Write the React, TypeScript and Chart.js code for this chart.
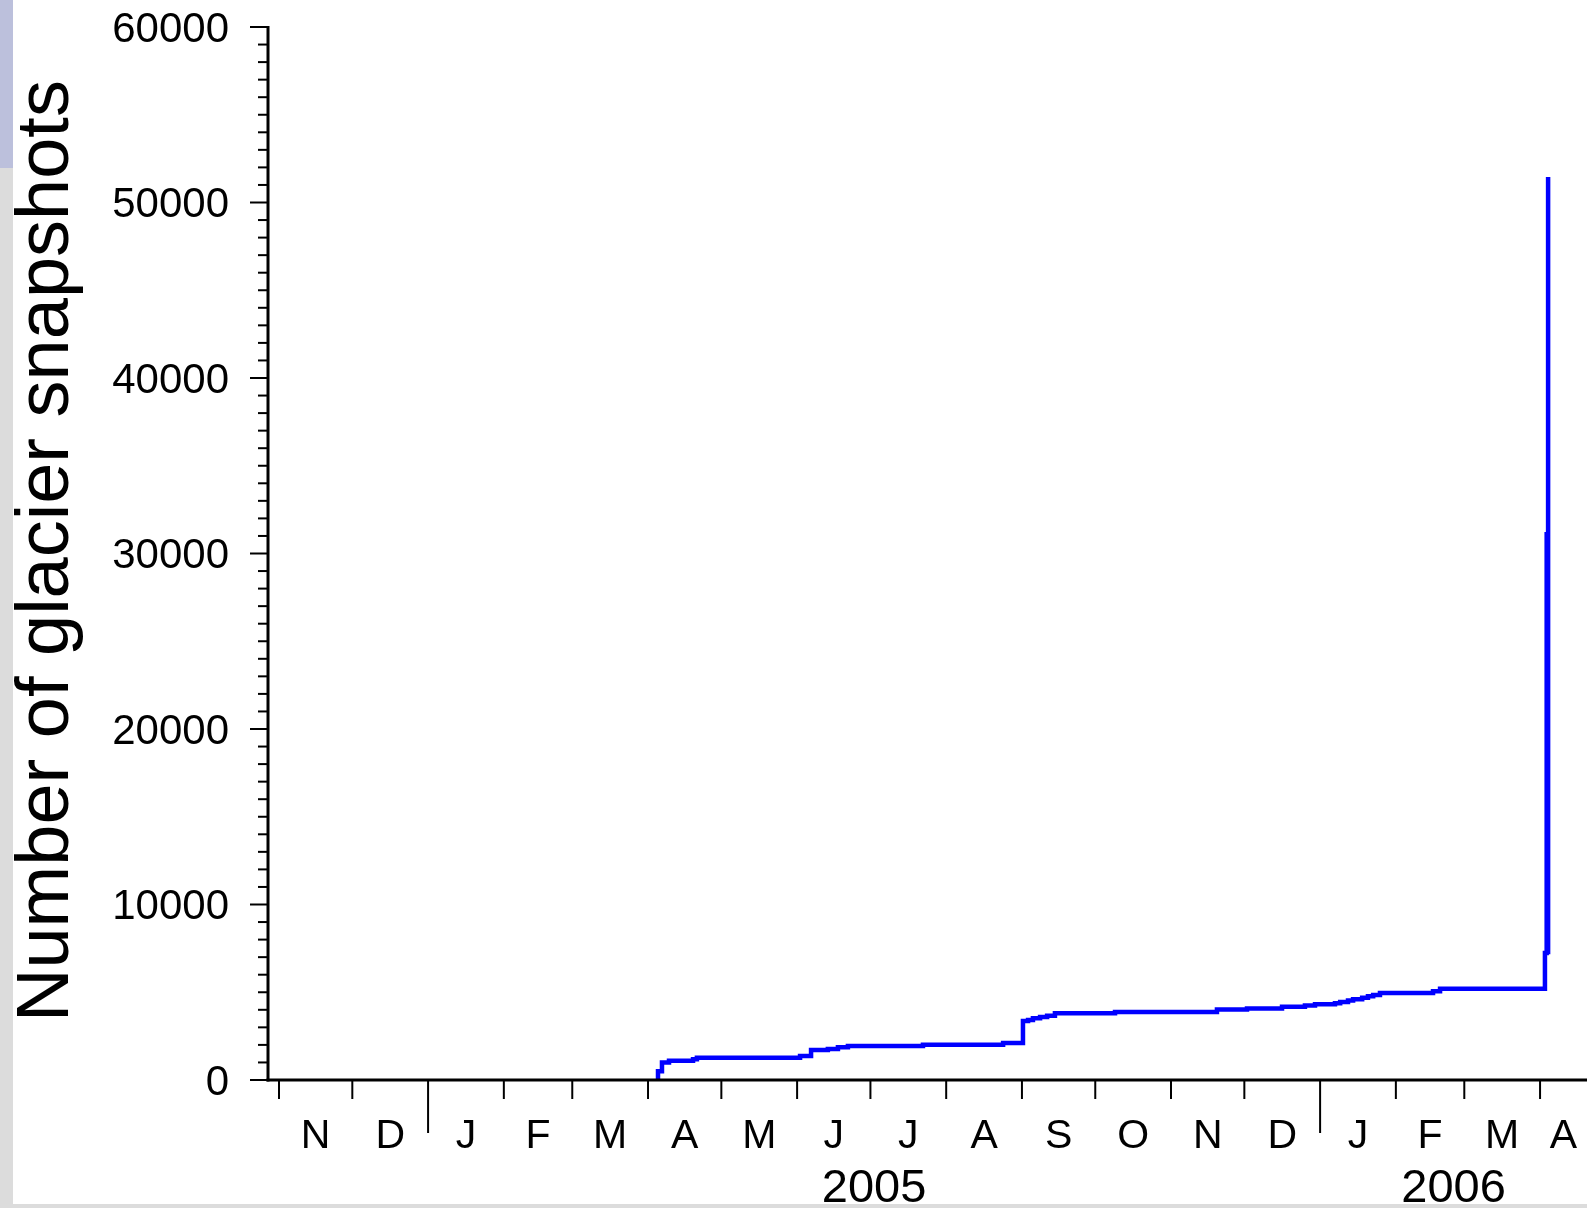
import React, { useEffect, useRef } from "react";
import { Chart, registerables } from "chart.js";

Chart.register(...registerables);

// ---- data ----
const snapshotDates: string[] = [
  "2005-04-04T07:00", "2005-04-05T02:00", "2005-04-06T17:00", "2005-04-09T14:00",
  "2005-04-19T10:00", "2005-04-21T00:00", "2005-06-02T05:00", "2005-06-06T17:00",
  "2005-06-13T14:00", "2005-06-17T17:00", "2005-06-21T19:00", "2005-07-22T12:00",
  "2005-08-24T07:00", "2005-09-01T10:00", "2005-09-03T12:00", "2005-09-05T12:00",
  "2005-09-08T10:00", "2005-09-11T07:00", "2005-09-14T12:00", "2005-10-09T02:00",
  "2005-10-26T07:00", "2005-11-19T19:00", "2005-12-02T02:00", "2005-12-16T10:00",
  "2005-12-25T19:00", "2005-12-29T22:00", "2006-01-07T02:00", "2006-01-09T05:00",
  "2006-01-12T10:00", "2006-01-14T12:00", "2006-01-18T05:00", "2006-01-20T14:00",
  "2006-01-22T17:00", "2006-01-25T12:00", "2006-02-16T05:00", "2006-02-19T02:00",
  "2006-04-03T00:00", "2006-04-03T17:00", "2006-04-04T02:00", "2006-04-04T07:00",
];
const snapshotCounts: number[] = [
  0, 500, 1000, 1100,
  1180, 1270, 1370, 1710,
  1770, 1860, 1940, 2010,
  2110, 3360, 3420, 3520,
  3590, 3665, 3800, 3870,
  3880, 4010, 4080, 4180,
  4240, 4320, 4380, 4440,
  4530, 4600, 4680, 4770,
  4840, 4960, 5050, 5200,
  7240, 31100, 7300, 51450,
];

const axisStart = "2004-10-27T12:00";
const axisEnd = "2006-04-20T05:00";

const monthStarts: string[] = [
  "2004-11-01", "2004-12-01", "2005-01-01", "2005-02-01", "2005-03-01", "2005-04-01",
  "2005-05-01", "2005-06-01", "2005-07-01", "2005-08-01", "2005-09-01", "2005-10-01",
  "2005-11-01", "2005-12-01", "2006-01-01", "2006-02-01", "2006-03-01", "2006-04-01",
  "2006-05-01",
];
const monthLetters: string[] = [
  "N", "D", "J", "F", "M", "A", "M", "J", "J", "A", "S", "O", "N", "D", "J", "F", "M", "A",
];
const yearStarts: string[] = ["2005-01-01", "2006-01-01", "2007-01-01"];
const yearLabels: string[] = ["2005", "2006"];

const yMin = 0;
const yMax = 60000;
const yMajorStep = 10000;
const yMinorStep = 1000;
const yTitle = "Number of glacier snapshots";

// ---- helpers ----
const EPOCH = Date.UTC(2004, 10, 1);
function toDay(s: string): number {
  const t = Date.parse(s.length === 10 ? s + "T00:00:00Z" : s + ":00Z");
  return (t - EPOCH) / 86400000;
}

const FONT = '"Liberation Sans", Arial, Helvetica, sans-serif';

export default function App() {
  const ref = useRef<HTMLCanvasElement | null>(null);

  useEffect(() => {
    const canvas = ref.current;
    if (!canvas) return;

    const points = snapshotDates.map((d, i) => ({ x: toDay(d), y: snapshotCounts[i] }));
    const xMin = toDay(axisStart);
    const xMax = toDay(axisEnd);

    const decorPlugin = {
      id: "decor",
      beforeDraw(chart: any) {
        const { ctx, width, height } = chart;
        ctx.save();
        ctx.fillStyle = "#ffffff";
        ctx.fillRect(0, 0, width, height);
        ctx.fillStyle = "#bcc0dc";
        ctx.fillRect(0, 0, 13, 168);
        ctx.fillStyle = "#dcdcdc";
        ctx.fillRect(0, 168, 13, height - 168);
        ctx.fillRect(0, 1204, width, height - 1204);
        ctx.restore();
      },
      afterDraw(chart: any) {
        const { ctx } = chart;
        const xs = chart.scales.x;
        const ys = chart.scales.y;
        const area = chart.chartArea;
        const axX = area.left;
        const axY = area.bottom;
        ctx.save();
        ctx.strokeStyle = "#000000";
        ctx.fillStyle = "#000000";

        // y minor/major ticks
        ctx.lineWidth = 2;
        for (let v = yMin; v <= yMax; v += yMinorStep) {
          const y = ys.getPixelForValue(v);
          const len = v % yMajorStep === 0 ? 18 : 10;
          ctx.beginPath();
          ctx.moveTo(axX - len, y);
          ctx.lineTo(axX, y);
          ctx.stroke();
        }

        // x month ticks
        const yearDays = yearStarts.map(toDay);
        monthStarts.forEach((m) => {
          const d = toDay(m);
          if (d < xMin || d > xMax) return;
          const x = xs.getPixelForValue(d);
          const isYear = yearDays.some((yd) => Math.abs(yd - d) < 0.01);
          ctx.beginPath();
          ctx.moveTo(x, axY);
          ctx.lineTo(x, axY + (isYear ? 53 : 19));
          ctx.stroke();
        });

        // axis lines
        ctx.lineWidth = 3;
        ctx.beginPath();
        ctx.moveTo(axX, ys.getPixelForValue(yMax) - 1);
        ctx.lineTo(axX, axY + 1.5);
        ctx.stroke();
        ctx.beginPath();
        ctx.moveTo(axX - 1.5, axY);
        ctx.lineTo(area.right, axY);
        ctx.stroke();

        // month letters
        ctx.font = `41px ${FONT}`;
        ctx.textAlign = "center";
        ctx.textBaseline = "alphabetic";
        monthLetters.forEach((lab, i) => {
          const a = Math.max(toDay(monthStarts[i]), xMin);
          const b = Math.min(toDay(monthStarts[i + 1]), xMax);
          const x = (xs.getPixelForValue(a) + xs.getPixelForValue(b)) / 2;
          ctx.fillText(lab, x, 1148);
        });

        // year labels
        ctx.font = `47px ${FONT}`;
        yearLabels.forEach((lab, i) => {
          const a = Math.max(toDay(yearStarts[i]), xMin);
          const b = Math.min(toDay(yearStarts[i + 1]), xMax);
          const x = (xs.getPixelForValue(a) + xs.getPixelForValue(b)) / 2;
          ctx.fillText(lab, x, 1202);
        });

        // y title
        ctx.font = `74px ${FONT}`;
        ctx.textAlign = "left";
        ctx.translate(68, 1022);
        ctx.rotate(-Math.PI / 2);
        ctx.fillText(yTitle, 0, 0);
        ctx.restore();
      },
    };

    const chart = new Chart(canvas, {
      type: "line",
      data: {
        datasets: [
          {
            data: points,
            borderColor: "#0000ff",
            backgroundColor: "#0000ff",
            borderWidth: 4.5,
            pointRadius: 0,
            stepped: true,
            fill: false,
            tension: 0,
          },
        ],
      },
      options: {
        animation: false,
        responsive: false,
        maintainAspectRatio: false,
        layout: { padding: { top: 27, right: 0, bottom: 0, left: 0 } },
        plugins: {
          legend: { display: false },
          tooltip: { enabled: false },
        },
        scales: {
          x: {
            type: "linear",
            min: xMin,
            max: xMax,
            grid: { display: false },
            border: { display: false },
            ticks: { display: false },
            afterFit: (s: any) => {
              s.height = 128;
              s.paddingLeft = 0;
              s.paddingRight = 0;
            },
          },
          y: {
            type: "linear",
            min: yMin,
            max: yMax,
            grid: { display: false, drawTicks: false },
            border: { display: false },
            ticks: {
              stepSize: yMajorStep,
              padding: 39,
              labelOffset: 3,
              color: "#000000",
              font: { family: FONT, size: 42 },
              callback: (v: any) => String(v),
              autoSkip: false,
            },
            afterFit: (s: any) => {
              s.width = 268;
              s.paddingTop = 0;
              s.paddingBottom = 0;
            },
          },
        },
      },
      plugins: [decorPlugin],
    });

    return () => chart.destroy();
  }, []);

  return (
    <div style={{ position: "absolute", left: 0, top: 0, width: 1587, height: 1208 }}>
      <canvas ref={ref} width={1587} height={1208} style={{ display: "block" }} />
    </div>
  );
}
